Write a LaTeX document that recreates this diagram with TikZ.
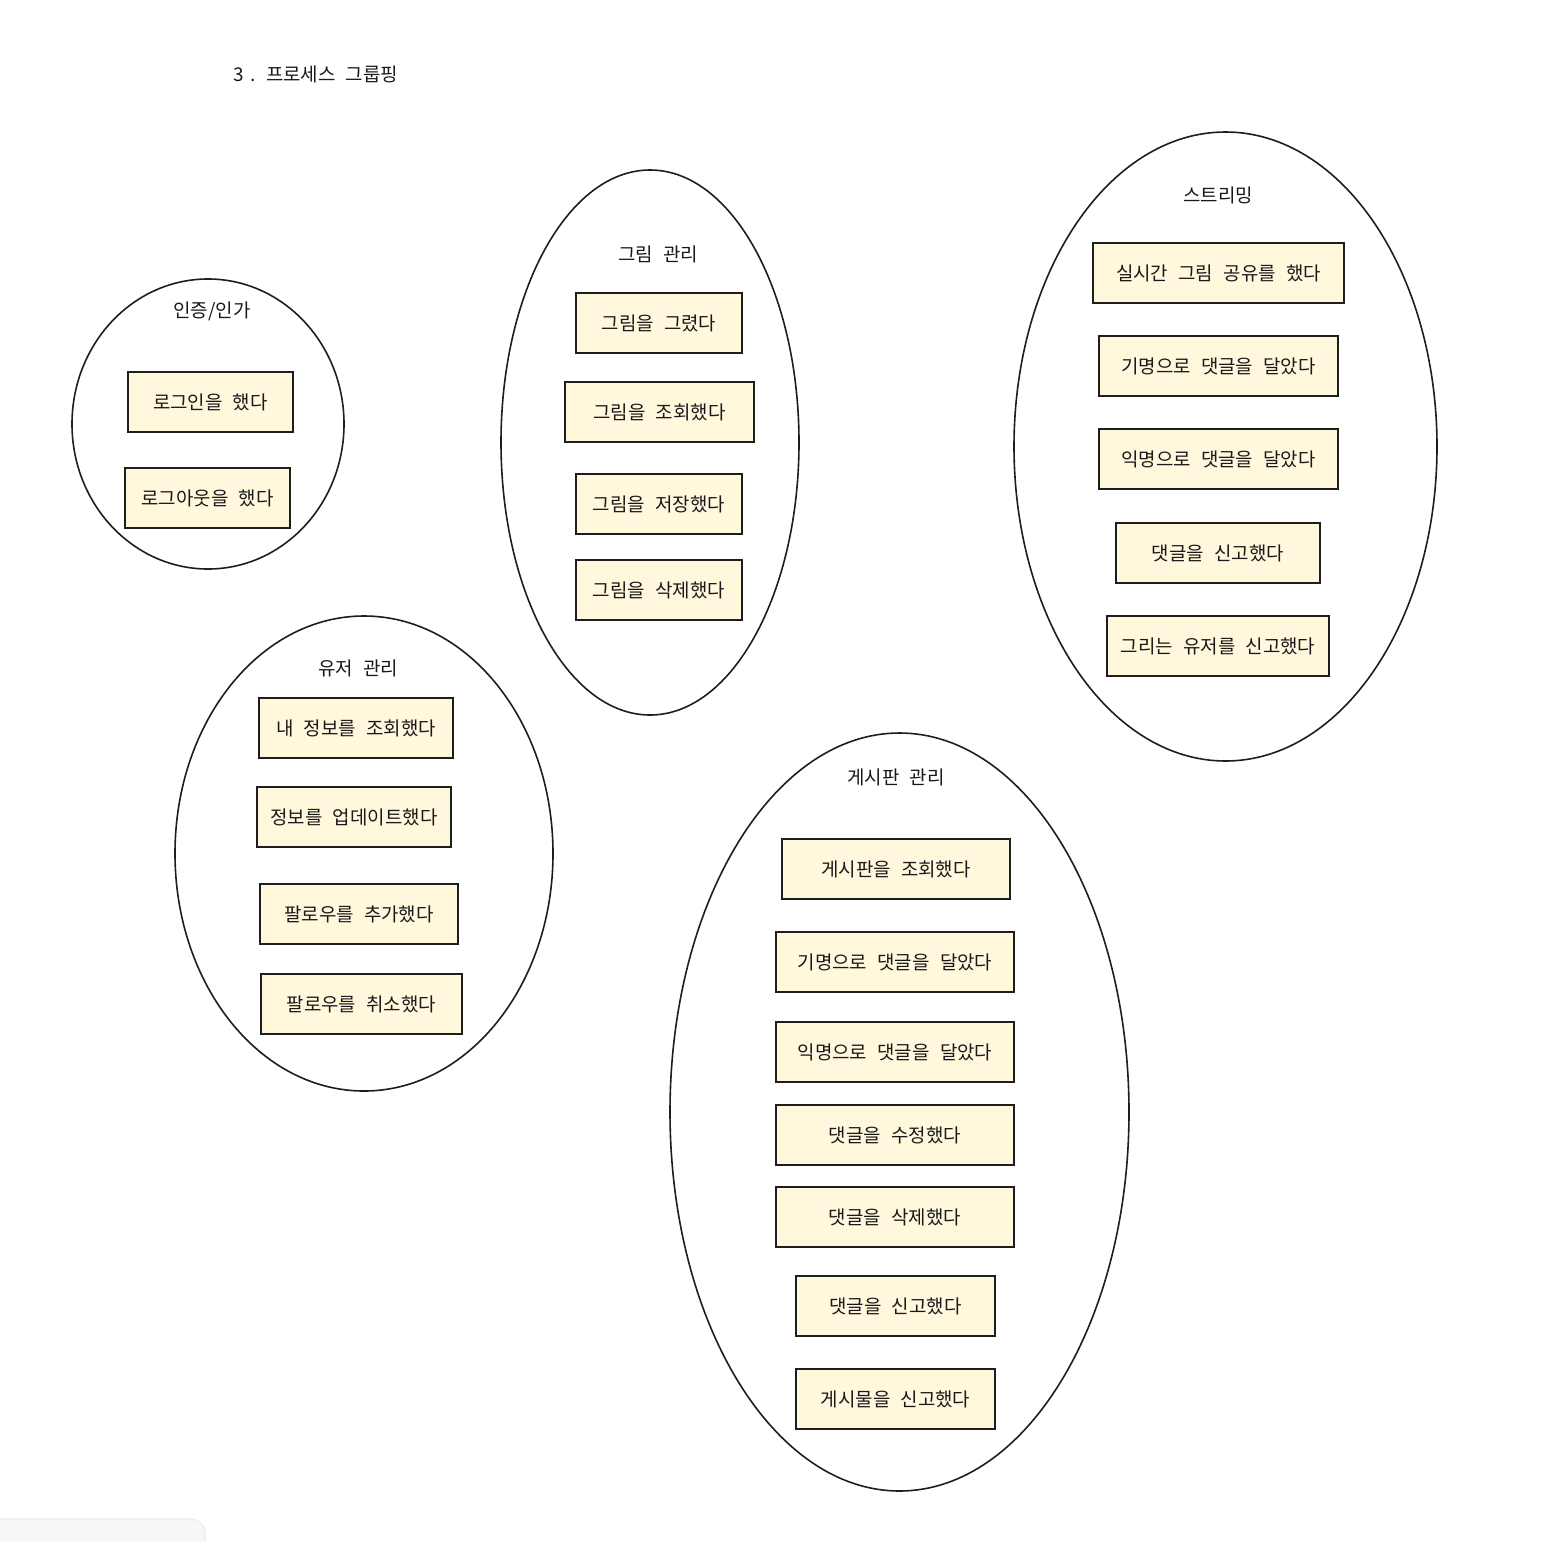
\documentclass[tikz,border=0pt]{standalone}
\usepackage{fontspec}
\setmainfont[WordSpace=2.4]{Noto Sans CJK KR}
\usetikzlibrary{shapes.geometric}
\newlength\upx \setlength\upx{0.75pt}
\definecolor{boxfill}{RGB}{255,248,221}
\definecolor{ink}{RGB}{30,30,30}
\definecolor{txt}{RGB}{25,25,25}
\tikzset{
  grp/.style={draw=ink, line width=1.6\upx, ellipse, inner sep=0pt},
  act/.style={draw=ink, fill=boxfill, line width=2\upx, inner sep=0pt, minimum height=60\upx, text=txt, font=\fontsize{14.2pt}{17pt}\selectfont},
  glabel/.style={text=txt, font=\fontsize{14.2pt}{17pt}\selectfont, inner sep=0pt}
}
\begin{document}
\begin{tikzpicture}[x=0.75pt, y=-0.75pt]
\useasboundingbox[fill=white] (0,0) rectangle (1560,1542);
% faint UI artifact bottom-left
\fill[rounded corners=14\upx, fill={rgb,255:red,247;green,247;blue,247}, draw={rgb,255:red,232;green,232;blue,232}, line width=0.8\upx] (-20,1519) rectangle (205,1570);

\node[glabel, anchor=west] (title) at (233,74) {3\hspace{0.35em}.\hspace{0.55em}프로세스 그룹핑};

% 인증/인가
\node[grp, minimum width=272\upx, minimum height=290\upx] (g1) at (208,424) {};
\node[glabel] (l1) at (212,311) {인증/인가};
\node[act, minimum width=165\upx] (a11) at (210.5,402) {로그인을 했다};
\node[act, minimum width=165\upx] (a12) at (207.5,498) {로그아웃을 했다};

% 그림 관리
\node[grp, minimum width=298\upx, minimum height=545\upx] (g2) at (650,442.5) {};
\node[glabel] (l2) at (658,254) {그림 관리};
\node[act, minimum width=166\upx] (a21) at (659,323) {그림을 그렸다};
\node[act, minimum width=189\upx] (a22) at (659.5,412) {그림을 조회했다};
\node[act, minimum width=166\upx] (a23) at (659,504) {그림을 저장했다};
\node[act, minimum width=166\upx] (a24) at (659,590) {그림을 삭제했다};

% 스트리밍
\node[grp, minimum width=423\upx, minimum height=629\upx] (g3) at (1225.5,446.5) {};
\node[glabel] (l3) at (1218,195) {스트리밍};
\node[act, minimum width=251\upx] (a31) at (1218.5,273) {실시간 그림 공유를 했다};
\node[act, minimum width=239\upx] (a32) at (1218.5,366) {기명으로 댓글을 달았다};
\node[act, minimum width=239\upx] (a33) at (1218.5,459) {익명으로 댓글을 달았다};
\node[act, minimum width=204\upx] (a34) at (1218,553) {댓글을 신고했다};
\node[act, minimum width=222\upx] (a35) at (1218,646) {그리는 유저를 신고했다};

% 유저 관리
\node[grp, minimum width=378\upx, minimum height=475\upx] (g4) at (364,853.5) {};
\node[glabel] (l4) at (358,668) {유저 관리};
\node[act, minimum width=194\upx] (a41) at (356,728) {내 정보를 조회했다};
\node[act, minimum width=194\upx] (a42) at (354,817) {정보를 업데이트했다};
\node[act, minimum width=198\upx] (a43) at (359,914) {팔로우를 추가했다};
\node[act, minimum width=201\upx] (a44) at (361.5,1004) {팔로우를 취소했다};

% 게시판 관리
\node[grp, minimum width=459\upx, minimum height=758\upx] (g5) at (899.5,1112) {};
\node[glabel] (l5) at (896,777) {게시판 관리};
\node[act, minimum width=228\upx] (a51) at (896,869) {게시판을 조회했다};
\node[act, minimum width=238\upx] (a52) at (895,962) {기명으로 댓글을 달았다};
\node[act, minimum width=238\upx] (a53) at (895,1052) {익명으로 댓글을 달았다};
\node[act, minimum width=238\upx] (a54) at (895,1135) {댓글을 수정했다};
\node[act, minimum width=238\upx] (a55) at (895,1217) {댓글을 삭제했다};
\node[act, minimum width=199\upx] (a56) at (895.5,1306) {댓글을 신고했다};
\node[act, minimum width=199\upx] (a57) at (895.5,1399) {게시물을 신고했다};
\end{tikzpicture}
\end{document}
